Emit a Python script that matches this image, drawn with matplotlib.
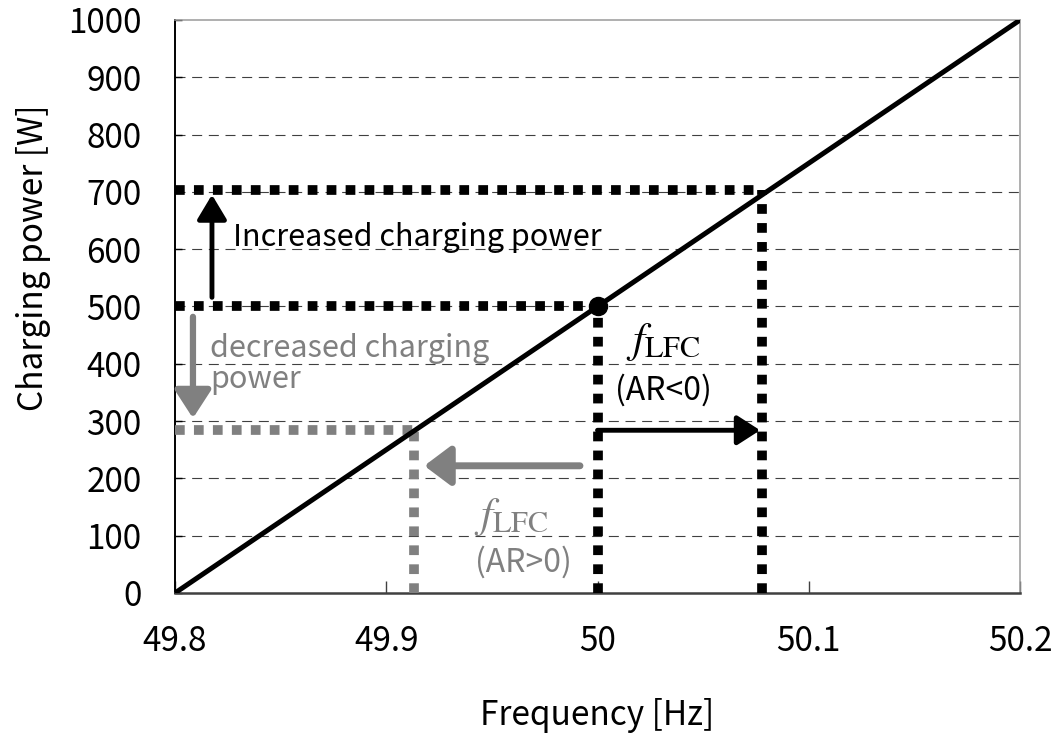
import numpy as np
import matplotlib.pyplot as plt

plt.rcParams['font.family'] = ['Noto Sans CJK JP', 'DejaVu Sans']
plt.rcParams['mathtext.fontset'] = 'stix'

# characteristic line
freq = [49.8, 50.2]
power = [0, 1000]

# operating points
f0, p0 = 50.0, 500
f_up, p_up = 50.078, 703
f_dn, p_dn = 49.913, 285

xticks = [49.8, 49.9, 50.0, 50.1, 50.2]
xtick_labels = ['49.8', '49.9', '50', '50.1', '50.2']
yticks = list(range(0, 1001, 100))

GRAY = '#808080'

fig = plt.figure(figsize=(10.57, 7.36), dpi=100)
ax = fig.add_axes([175 / 1057, 143 / 736, 845 / 1057, 573 / 736])

ax.set_xlim(49.8, 50.2)
ax.set_ylim(0, 1000)

# grid (the 1000 line is the frame)
for y in yticks[1:-1]:
    ax.axhline(y, color='#404040', lw=0.8, ls=(0, (9, 6)), zorder=1)

dots = dict(lw=7, ls=(0, (1, 0.95)), dash_capstyle='butt', zorder=3)
# black guides
ax.plot([49.8, f_up], [p_up, p_up], color='black', **dots)
ax.plot([f_up, f_up], [0, p_up], color='black', **dots)
ax.plot([49.8, f0], [p0, p0], color='black', **dots)
ax.plot([f0, f0], [0, p0], color='black', **dots)
# gray guides
ax.plot([49.8, f_dn], [p_dn, p_dn], color=GRAY, **dots)
ax.plot([f_dn, f_dn], [0, p_dn], color=GRAY, **dots)

# main characteristic
ax.plot(freq, power, color='black', lw=3.6, zorder=4, solid_capstyle='butt')
ax.plot([f0], [p0], 'o', color='black', ms=13, zorder=5)

def arrow(x0, y0, x1, y1, color, lw, hw, hl):
    ax.annotate('', xy=(x1, y1), xytext=(x0, y0),
                arrowprops=dict(arrowstyle=f'-|>,head_width={hw},head_length={hl}',
                                color=color, lw=lw, mutation_scale=20,
                                shrinkA=0, shrinkB=0),
                zorder=6)

arrow(49.8175, 516, 49.8175, 695, 'black', 3.5, 0.45, 0.75)
arrow(49.8085, 482, 49.8085, 305, GRAY, 4.5, 0.55, 0.85)
arrow(50.0, 284, 50.077, 284, 'black', 3.5, 0.45, 0.7)
arrow(49.9917, 222, 49.918, 222, GRAY, 5, 0.6, 0.8)

ax.text(49.8275, 620, 'Increased charging power', fontsize=22,
        ha='left', va='center', color='black', zorder=7)
ax.text(49.8166, 400, 'decreased charging\npower', fontsize=22,
        ha='left', va='center', color=GRAY, linespacing=1.0, zorder=7)

ax.text(50.031, 440, r'$f_{\mathrm{LFC}}$', fontsize=31, ha='center',
        va='center', color='black', zorder=7)
ax.text(50.031, 354, '(AR<0)', fontsize=23, ha='center', va='center',
        color='black', zorder=7)
ax.text(49.959, 135, r'$f_{\mathrm{LFC}}$', fontsize=31, ha='center',
        va='center', color=GRAY, zorder=7)
ax.text(49.965, 54, '(AR>0)', fontsize=23, ha='center', va='center',
        color=GRAY, zorder=7)

# axes styling
for side in ['top', 'right']:
    ax.spines[side].set_color('#9a9a9a')
    ax.spines[side].set_linewidth(1.1)
ax.spines['left'].set_linewidth(1.4)
ax.spines['bottom'].set_linewidth(1.8)
ax.spines['bottom'].set_color('#404040')

ax.set_xticks(xticks)
ax.set_xticklabels(xtick_labels)
ax.set_yticks(yticks)
ax.tick_params(axis='x', direction='in', length=9, width=1, color='#404040',
               labelsize=24, pad=22)
ax.tick_params(axis='y', direction='in', length=5, width=1,
               labelsize=24, pad=24)

ax.set_xlabel('Frequency [Hz]', fontsize=24)
ax.set_ylabel('Charging power [W]', fontsize=24)
ax.xaxis.set_label_coords(0.5, -0.183)
ax.yaxis.set_label_coords(-0.147, 0.585)

fig.savefig('out.png', dpi=100)
